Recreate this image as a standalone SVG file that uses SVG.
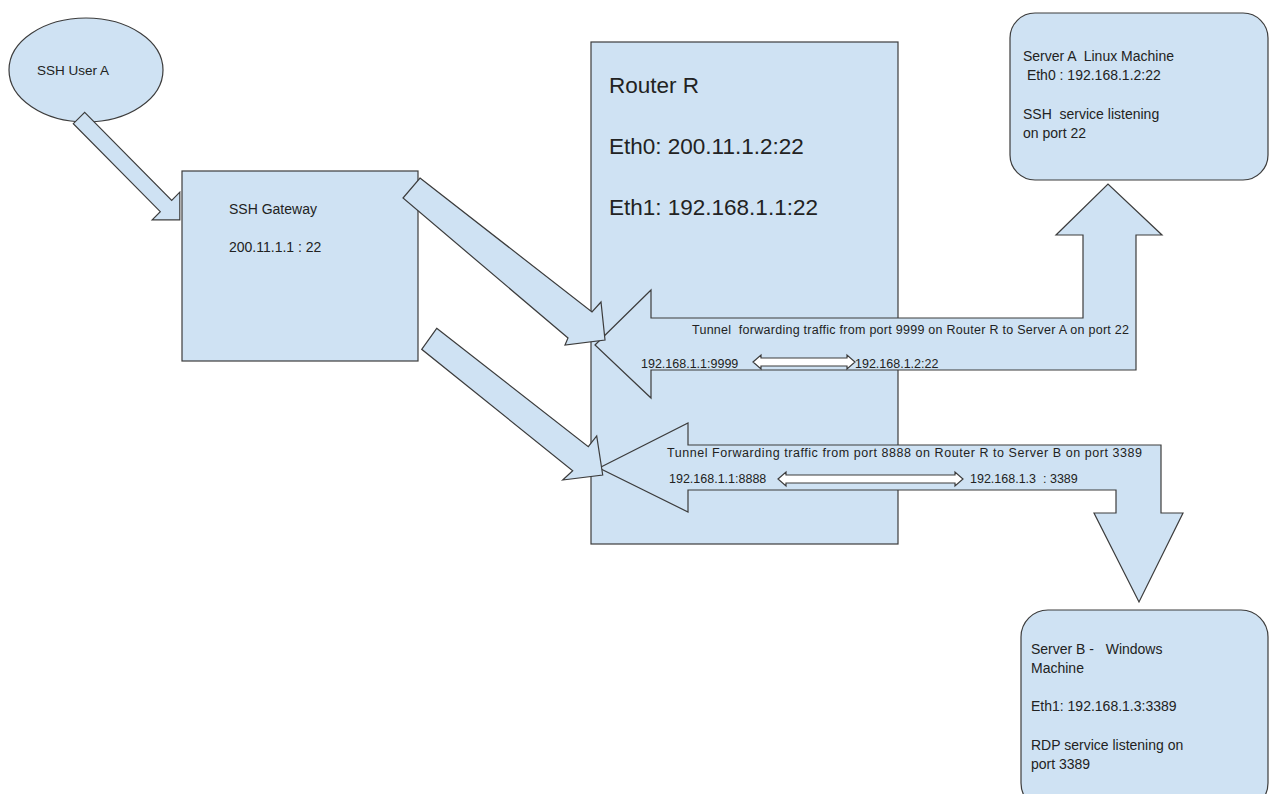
<svg xmlns="http://www.w3.org/2000/svg" width="1269" height="794" viewBox="0 0 1269 794">
<style>
.shape{fill:#cfe2f3;stroke:#3c3c3c;stroke-width:1.2;stroke-linejoin:miter}
.dbl{fill:#ffffff;stroke:#3c3c3c;stroke-width:1.2}
text{font-family:"Liberation Sans",Arial,sans-serif;fill:#222}
.s14{font-size:14px}
.s13{font-size:13.5px}
.s22{font-size:22.5px}
.s10{font-size:12.5px}
</style>
<rect width="1269" height="794" fill="#ffffff"/>
<g id="user-a">
<ellipse class="shape" cx="86" cy="70" rx="77" ry="52"/>
<text class="s13" x="37" y="75">SSH User A</text>
</g>
<g id="ssh-gateway">
<rect class="shape" x="182" y="171" width="236" height="190"/>
<text class="s14" x="229" y="214">SSH Gateway</text>
<text class="s14" x="229" y="252">200.11.1.1 : 22</text>
</g>
<g id="router-r">
<rect class="shape" x="591" y="42" width="307" height="502"/>
<text class="s22" x="609" y="93">Router R</text>
<text class="s22" x="609" y="154">Eth0: 200.11.1.2:22</text>
<text class="s22" x="609" y="215">Eth1: 192.168.1.1:22</text>
</g>
<g id="server-a">
<rect class="shape" x="1010" y="13" width="258" height="167" rx="25"/>
<text class="s14" x="1023" y="61" xml:space="preserve">Server A  Linux Machine</text>
<text class="s14" x="1023" y="80" xml:space="preserve"> Eth0 : 192.168.1.2:22</text>
<text class="s14" x="1023" y="119" xml:space="preserve">SSH  service listening</text>
<text class="s14" x="1023" y="138">on port 22</text>
</g>
<g id="server-b">
<rect class="shape" x="1021" y="610" width="247" height="200" rx="27"/>
<text class="s14" x="1031" y="654" xml:space="preserve">Server B -   Windows</text>
<text class="s14" x="1031" y="673">Machine</text>
<text class="s14" x="1031" y="711">Eth1: 192.168.1.3:3389</text>
<text class="s14" x="1031" y="750">RDP service listening on</text>
<text class="s14" x="1031" y="769">port 3389</text>
</g>
<g id="connectors">
<path class="shape" d="M595,345 L651,290 L651,318 L1083,318 L1083,235 L1056,235 L1108,184 L1162,235 L1136,235 L1136,370 L651,370 L651,398 Z"/>
<path class="shape" d="M599,468 L688,423 L688,445 L1161,445 L1161,513 L1183,513 L1139,602 L1094,513 L1116,513 L1116,490 L688,490 L688,512 Z"/>
<path class="shape" d="M84.7,112.3 L171.7,200.3 L179.8,192.2 L179.8,219.8 L152.2,219.8 L160.3,211.7 L73.3,123.7 Z"/>
<path class="shape" d="M420,178 L592,312 L601,302 L605,340 L565,345 L568,338 L403,198 Z"/>
<path class="shape" d="M436.7,328.3 L588.3,446.7 L596.7,436 L602.7,475 L562.7,480 L572.7,470.7 L421.7,349.3 Z"/>
<path class="dbl" d="M753,362 L761,355 L761,358 L847,358 L847,355 L855,362 L847,369 L847,366 L761,366 L761,369 Z"/>
<path class="dbl" d="M778,479 L786,472 L786,475 L955,475 L955,472 L963,479 L955,486 L955,483 L786,483 L786,486 Z"/>
<text class="s10" x="692" y="334" textLength="437" xml:space="preserve">Tunnel  forwarding traffic from port 9999 on Router R to Server A on port 22</text>
<text class="s10" x="641" y="368">192.168.1.1:9999</text>
<text class="s10" x="855" y="368">192.168.1.2:22</text>
<text class="s10" x="667" y="457" textLength="475">Tunnel Forwarding traffic from port 8888 on Router R to Server B on port 3389</text>
<text class="s10" x="669" y="483">192.168.1.1:8888</text>
<text class="s10" x="970" y="483" xml:space="preserve">192.168.1.3  : 3389</text>
</g>
</svg>
